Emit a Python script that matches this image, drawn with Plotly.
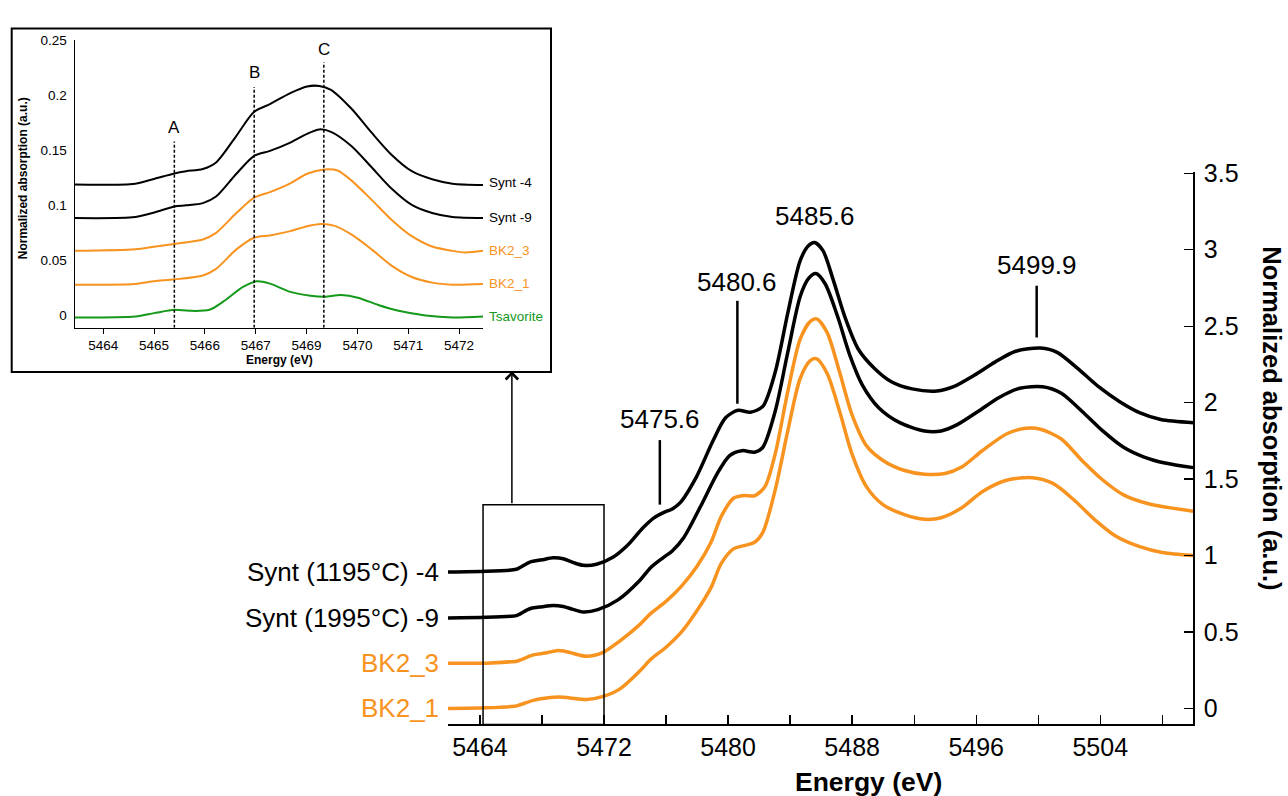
import plotly.graph_objects as go

# ---------------- main chart data ----------------
synt4_x = [5461.94, 5464.4, 5466.0, 5466.4, 5467.22, 5468.0, 5468.73, 5469.37, 5470.0, 5470.66, 5471.52,
           5472.6, 5473.5, 5474.5, 5475.2, 5475.8, 5476.4, 5476.9, 5477.96, 5479.03, 5479.84, 5480.64,
           5481.44, 5482.24, 5483.04, 5483.85, 5484.65, 5485.18, 5485.58, 5486.12, 5486.79, 5487.59,
           5488.39, 5489.46, 5490.53, 5491.87, 5493.47, 5494.54, 5495.87, 5497.21, 5498.55, 5500.15,
           5501.22, 5502.56, 5503.89, 5505.23, 5506.57, 5507.9, 5510.0]
synt4_y = [0.892, 0.897, 0.905, 0.912, 0.957, 0.972, 0.985, 0.979, 0.955, 0.936, 0.943,
           0.99, 1.065, 1.18, 1.245, 1.279, 1.305, 1.344, 1.515, 1.751, 1.901, 1.95,
           1.937, 1.976, 2.20, 2.586, 2.929, 3.026, 3.047, 2.994, 2.80, 2.544,
           2.351, 2.222, 2.137, 2.09, 2.076, 2.104, 2.179, 2.265, 2.336, 2.357,
           2.329, 2.222, 2.104, 2.008, 1.933, 1.89, 1.869]

synt9_x = [5461.94, 5464.4, 5466.0, 5466.4, 5467.22, 5468.0, 5468.73, 5469.37, 5470.0, 5470.66, 5471.6,
           5472.9, 5474.32, 5475.0, 5475.8, 5476.4, 5477.16, 5478.23, 5479.3, 5480.1, 5480.9, 5481.71,
           5482.24, 5483.04, 5483.85, 5484.65, 5485.18, 5485.66, 5486.25, 5487.06, 5487.86, 5488.66,
           5489.73, 5491.07, 5492.67, 5493.74, 5494.81, 5496.14, 5497.48, 5498.81, 5500.28, 5501.49,
           5502.82, 5504.16, 5505.5, 5506.83, 5508.17, 5510.0]
synt9_y = [0.592, 0.596, 0.603, 0.609, 0.652, 0.665, 0.674, 0.667, 0.648, 0.631, 0.646,
           0.71, 0.839, 0.92, 0.985, 1.03, 1.12, 1.322, 1.536, 1.654, 1.686, 1.676,
           1.708, 1.944, 2.329, 2.694, 2.811, 2.844, 2.779, 2.565, 2.308, 2.115,
           1.965, 1.869, 1.815, 1.815, 1.858, 1.944, 2.034, 2.094, 2.104, 2.062,
           1.944, 1.815, 1.708, 1.644, 1.605, 1.575]

bk23_x = [5461.94, 5464.4, 5466.0, 5466.4, 5467.44, 5468.2, 5468.94, 5469.59, 5470.88, 5471.95,
          5473.03, 5474.32, 5475.0, 5476.0, 5477.0, 5478.0, 5478.9, 5479.57, 5480.37, 5481.04,
          5481.71, 5482.38, 5483.04, 5483.85, 5484.65, 5485.32, 5485.72, 5486.39, 5487.19, 5487.99,
          5488.92, 5489.99, 5491.33, 5492.67, 5494.0, 5495.07, 5496.41, 5498.01, 5499.22, 5500.15,
          5501.49, 5502.82, 5504.16, 5505.5, 5507.1, 5510.0]
bk23_y = [0.296, 0.296, 0.305, 0.309, 0.35, 0.362, 0.378, 0.371, 0.341, 0.367,
          0.442, 0.55, 0.62, 0.70, 0.80, 0.93, 1.087, 1.258, 1.376, 1.393,
          1.391, 1.451, 1.665, 2.072, 2.415, 2.533, 2.548, 2.458, 2.20, 1.922,
          1.719, 1.622, 1.558, 1.532, 1.537, 1.579, 1.687, 1.798, 1.832, 1.826,
          1.762, 1.622, 1.494, 1.397, 1.339, 1.29]

bk21_x = [5461.94, 5464.4, 5466.0, 5466.37, 5467.44, 5468.3, 5469.16, 5469.8, 5470.88, 5471.95,
          5473.03, 5474.32, 5475.0, 5476.0, 5477.0, 5478.0, 5478.9, 5479.57, 5480.37, 5481.04,
          5481.71, 5482.24, 5483.04, 5483.85, 5484.65, 5485.32, 5485.72, 5486.39, 5487.19, 5487.99,
          5488.92, 5489.99, 5491.33, 5492.67, 5493.74, 5495.07, 5496.41, 5498.01, 5499.62, 5500.95,
          5502.29, 5503.62, 5504.96, 5506.5, 5508.0, 5510.0]
bk21_y = [0.0, 0.004, 0.012, 0.017, 0.053, 0.068, 0.075, 0.069, 0.058, 0.079,
          0.128, 0.246, 0.32, 0.40, 0.50, 0.64, 0.79, 0.95, 1.045, 1.065,
          1.087, 1.151, 1.429, 1.815, 2.158, 2.276, 2.286, 2.19, 1.944, 1.665,
          1.451, 1.333, 1.269, 1.237, 1.247, 1.312, 1.419, 1.494, 1.509, 1.472,
          1.365, 1.237, 1.13, 1.06, 1.02, 1.0]

main_names = ["Synt (1195°C) -4", "Synt (1995°C) -9", "BK2_3", "BK2_1"]
main_start = [0.892, 0.592, 0.296, 0.0]

peak_labels = ["5475.6", "5480.6", "5485.6", "5499.9"]
peak_x = [5475.6, 5480.6, 5485.6, 5499.9]
peak_label_y = [1.894, 2.79, 3.219, 2.897]
peak_line_lo = [1.333, 1.993, None, 2.426]
peak_line_hi = [1.755, 2.666, None, 2.764]

main_xticks = [5464, 5468, 5472, 5476, 5480, 5484, 5488, 5492, 5496, 5500, 5504, 5508]
main_xticktext = ["5464", "", "5472", "", "5480", "", "5488", "", "5496", "", "5504", ""]
main_yticks = [0, 0.5, 1, 1.5, 2, 2.5, 3, 3.5]
main_yticktext = ["0", "0.5", "1", "1.5", "2", "2.5", "3", "3.5"]

# ---------------- inset data ----------------
ins_synt4_x = [5463.44, 5464.63, 5465.0, 5465.4, 5465.63, 5465.96, 5466.22, 5466.62, 5466.97, 5467.28,
               5467.68, 5468.01, 5468.25, 5468.48, 5468.88, 5469.28, 5469.67, 5470.07, 5470.47, 5470.87, 5471.47]
ins_synt4_y = [0.1189, 0.1197, 0.124, 0.129, 0.131, 0.133, 0.139, 0.1632, 0.185, 0.192,
               0.202, 0.208, 0.2085, 0.205, 0.188, 0.166, 0.146, 0.131, 0.1237, 0.1197, 0.1185]
ins_synt9_x = ins_synt4_x
ins_synt9_y = [0.0885, 0.0894, 0.0935, 0.099, 0.100, 0.102, 0.108, 0.1287, 0.145, 0.1495,
               0.157, 0.165, 0.169, 0.1668, 0.154, 0.1346, 0.1153, 0.1004, 0.093, 0.0894, 0.0885]
ins_bk23_x = [5463.44, 5464.63, 5465.0, 5465.4, 5465.96, 5466.22, 5466.62, 5466.97, 5467.28, 5467.68,
              5468.01, 5468.35, 5468.61, 5468.88, 5469.28, 5469.67, 5470.07, 5470.47, 5470.87, 5471.13, 5471.47]
ins_bk23_y = [0.0587, 0.0602, 0.0625, 0.065, 0.069, 0.075, 0.093, 0.107, 0.112, 0.120,
              0.1287, 0.1326, 0.1317, 0.1227, 0.105, 0.087, 0.072, 0.0626, 0.0587, 0.0572, 0.0587]
ins_bk21_x = [5463.44, 5464.63, 5465.0, 5465.4, 5465.96, 5466.22, 5466.62, 5466.97, 5467.28, 5467.68,
              5468.01, 5468.28, 5468.54, 5468.88, 5469.28, 5469.67, 5470.07, 5470.47, 5470.87, 5471.47]
ins_bk21_y = [0.028, 0.0286, 0.031, 0.0328, 0.0363, 0.0423, 0.060, 0.0706, 0.0727, 0.0766,
              0.081, 0.0831, 0.0816, 0.0736, 0.060, 0.0453, 0.0349, 0.0298, 0.028, 0.0286]
ins_tsav_x = [5463.44, 5464.63, 5465.0, 5465.4, 5465.69, 5466.09, 5466.36, 5466.75, 5467.02, 5467.28,
              5467.68, 5468.08, 5468.35, 5468.68, 5469.01, 5469.41, 5469.81, 5470.34, 5470.87, 5471.47]
ins_tsav_y = [-0.0018, -0.0009, 0.0021, 0.0051, 0.0042, 0.0051, 0.0125, 0.0259, 0.031, 0.0289,
              0.0214, 0.0179, 0.017, 0.0185, 0.0161, 0.0095, 0.0042, 0.0, -0.0018, -0.0009]

ins_names = ["Synt -4", "Synt -9", "BK2_3", "BK2_1", "Tsavorite"]
ins_label_y = [0.1206, 0.0894, 0.0587, 0.029, -0.001]

ins_marks = ["A", "B", "C"]
ins_mark_x = [5465.40, 5466.97, 5468.34]
ins_mark_top = [0.158, 0.2076, 0.230]
ins_mark_text_y = [0.171, 0.221, 0.242]

ins_xticks = [5464, 5465, 5466, 5467, 5468, 5469, 5470, 5471]
ins_xticktext = ["5464", "5465", "5466", "5467", "5469", "5470", "5471", "5472"]
ins_yticks = [0, 0.05, 0.1, 0.15, 0.2, 0.25]
ins_yticktext = ["0", "0.05", "0.1", "0.15", "0.2", "0.25"]

BLACK = "#000000"
ORANGE = "#F7931E"
GREEN = "#14991A"
FONT = "Liberation Sans, Arial, Helvetica, sans-serif"

W, H = 1288, 796

fig = go.Figure()

main_series = [(synt4_x, synt4_y, BLACK), (synt9_x, synt9_y, BLACK),
               (bk23_x, bk23_y, ORANGE), (bk21_x, bk21_y, ORANGE)]
for (xs, ys, c), nm in zip(main_series, main_names):
    fig.add_trace(go.Scatter(x=xs, y=ys, mode="lines", name=nm,
                             line=dict(color=c, width=3.5, shape="spline", smoothing=0.8),
                             xaxis="x", yaxis="y", showlegend=False, hoverinfo="skip"))

ins_series = [(ins_synt4_x, ins_synt4_y, BLACK), (ins_synt9_x, ins_synt9_y, BLACK),
              (ins_bk23_x, ins_bk23_y, ORANGE), (ins_bk21_x, ins_bk21_y, ORANGE),
              (ins_tsav_x, ins_tsav_y, GREEN)]
for (xs, ys, c), nm in zip(ins_series, ins_names):
    fig.add_trace(go.Scatter(x=xs, y=ys, mode="lines", name=nm,
                             line=dict(color=c, width=2, shape="spline", smoothing=0.8),
                             xaxis="x2", yaxis="y2", showlegend=False, hoverinfo="skip"))

annotations = []
shapes = []

# main left labels
main_colors = [BLACK, BLACK, ORANGE, ORANGE]
for nm, yv, c in zip(main_names, main_start, main_colors):
    annotations.append(dict(text=nm, xref="paper", yref="y", x=441 / W, y=yv,
                            xanchor="right", yanchor="middle", showarrow=False,
                            font=dict(family=FONT, size=26, color=c)))

# peak labels and marker lines
for lab, px, ly, lo, hi in zip(peak_labels, peak_x, peak_label_y, peak_line_lo, peak_line_hi):
    annotations.append(dict(text=lab, xref="x", yref="y", x=px, y=ly, xanchor="center",
                            yanchor="middle", showarrow=False,
                            font=dict(family=FONT, size=26, color=BLACK)))
    if lo is not None:
        shapes.append(dict(type="line", xref="x", yref="y", x0=px, x1=px, y0=lo, y1=hi,
                           line=dict(color=BLACK, width=2.5)))

# zoom box on main chart
shapes.append(dict(type="rect", xref="x", yref="y", x0=5464.2, x1=5472.0, y0=-0.105, y1=1.332,
                   line=dict(color=BLACK, width=1.5)))

# arrow from box to inset
annotations.append(dict(text="", xref="x", yref="y", x=5466.06, y=2.205,
                        axref="x", ayref="y", ax=5466.06, ay=1.332,
                        showarrow=True, arrowhead=4, arrowsize=1.6, arrowwidth=1.5,
                        arrowcolor=BLACK, standoff=0))

# main axis titles
annotations.append(dict(text="<b>Energy (eV)</b>", xref="paper", yref="paper",
                        x=868 / W, y=1 - 782 / H, xanchor="center", yanchor="middle",
                        showarrow=False, font=dict(family=FONT, size=26.5, color=BLACK)))
annotations.append(dict(text="<b>Normalized absorption (a.u.)</b>", xref="paper", yref="paper",
                        x=1272 / W, y=1 - 412 / H, xanchor="center", yanchor="middle",
                        textangle=90, showarrow=False,
                        font=dict(family=FONT, size=25.5, color=BLACK)))

# inset box
shapes.append(dict(type="rect", xref="paper", yref="paper", x0=11.7 / W, x1=551 / W,
                   y0=1 - 365 / H, y1=1 - 15.7 / H, line=dict(color=BLACK, width=2)))

# inset series labels
ins_colors = [BLACK, BLACK, ORANGE, ORANGE, GREEN]
for nm, yv, c in zip(ins_names, ins_label_y, ins_colors):
    annotations.append(dict(text=nm, xref="x2", yref="y2", x=5471.47, y=yv, xanchor="left",
                            yanchor="middle", xshift=4, showarrow=False,
                            font=dict(family=FONT, size=13.5, color=c)))

# inset A/B/C marks
for m, mx, top, ty in zip(ins_marks, ins_mark_x, ins_mark_top, ins_mark_text_y):
    shapes.append(dict(type="line", xref="x2", yref="y2", x0=mx, x1=mx, y0=-0.0112, y1=top,
                       line=dict(color=BLACK, width=1.5, dash="3px,2px")))
    annotations.append(dict(text=m, xref="x2", yref="y2", x=mx, y=ty, xanchor="center",
                            yanchor="middle", showarrow=False,
                            font=dict(family=FONT, size=17, color=BLACK)))

# inset axis titles
annotations.append(dict(text="<b>Energy (eV)</b>", xref="paper", yref="paper",
                        x=279 / W, y=1 - 353 / H, xanchor="center", yanchor="middle",
                        showarrow=False, font=dict(family=FONT, size=12, color=BLACK)))
annotations.append(dict(text="<b>Normalized absorption (a.u.)</b>", xref="paper", yref="paper",
                        x=23 / W, y=1 - 168 / H, xanchor="center", yanchor="middle",
                        textangle=-90, showarrow=False,
                        font=dict(family=FONT, size=12, color=BLACK)))

fig.update_layout(
    width=W, height=H, autosize=False,
    margin=dict(l=0, r=0, t=0, b=0),
    paper_bgcolor="white", plot_bgcolor="rgba(0,0,0,0)",
    showlegend=False,
    font=dict(family=FONT, color=BLACK),
    xaxis=dict(domain=[448 / W, 1193.3 / W], range=[5461.94, 5510.0], anchor="y",
               showline=True, linecolor=BLACK, linewidth=1.5, mirror=False,
               ticks="inside", ticklen=9, tickwidth=1.3, tickcolor=BLACK,
               tickvals=main_xticks, ticktext=main_xticktext,
               tickfont=dict(family=FONT, size=25, color=BLACK),
               showgrid=False, zeroline=False),
    yaxis=dict(domain=[1 - 723.3 / H, 1 - 161.4 / H], range=[-0.105, 3.51], anchor="x",
               side="right", showline=True, linecolor=BLACK, linewidth=1.5,
               ticks="inside", ticklen=9, tickwidth=1.3, tickcolor=BLACK,
               tickvals=main_yticks, ticktext=main_yticktext,
               tickfont=dict(family=FONT, size=25, color=BLACK),
               ticklabelstandoff=4,
               showgrid=False, zeroline=False),
    xaxis2=dict(domain=[74.7 / W, 483 / W], range=[5463.44, 5471.47], anchor="y2",
                showline=True, linecolor=BLACK, linewidth=1.2,
                ticks="outside", ticklen=5, tickwidth=1, tickcolor=BLACK,
                tickvals=ins_xticks, ticktext=ins_xticktext,
                tickfont=dict(family=FONT, size=13.5, color=BLACK),
                showgrid=False, zeroline=False),
    yaxis2=dict(domain=[1 - 320 / H, 1 - 27.7 / H], range=[-0.0112, 0.25], anchor="x2",
                showline=True, linecolor=BLACK, linewidth=1.2,
                ticks="", tickvals=ins_yticks, ticktext=ins_yticktext,
                tickfont=dict(family=FONT, size=13.5, color=BLACK),
                ticklabelstandoff=4,
                showgrid=False, zeroline=False),
    annotations=annotations,
    shapes=shapes,
)

fig.write_html("out.html",
               config={"displayModeBar": False, "staticPlot": True},
               post_script="document.body.style.margin='0px';document.body.style.overflow='hidden';")
